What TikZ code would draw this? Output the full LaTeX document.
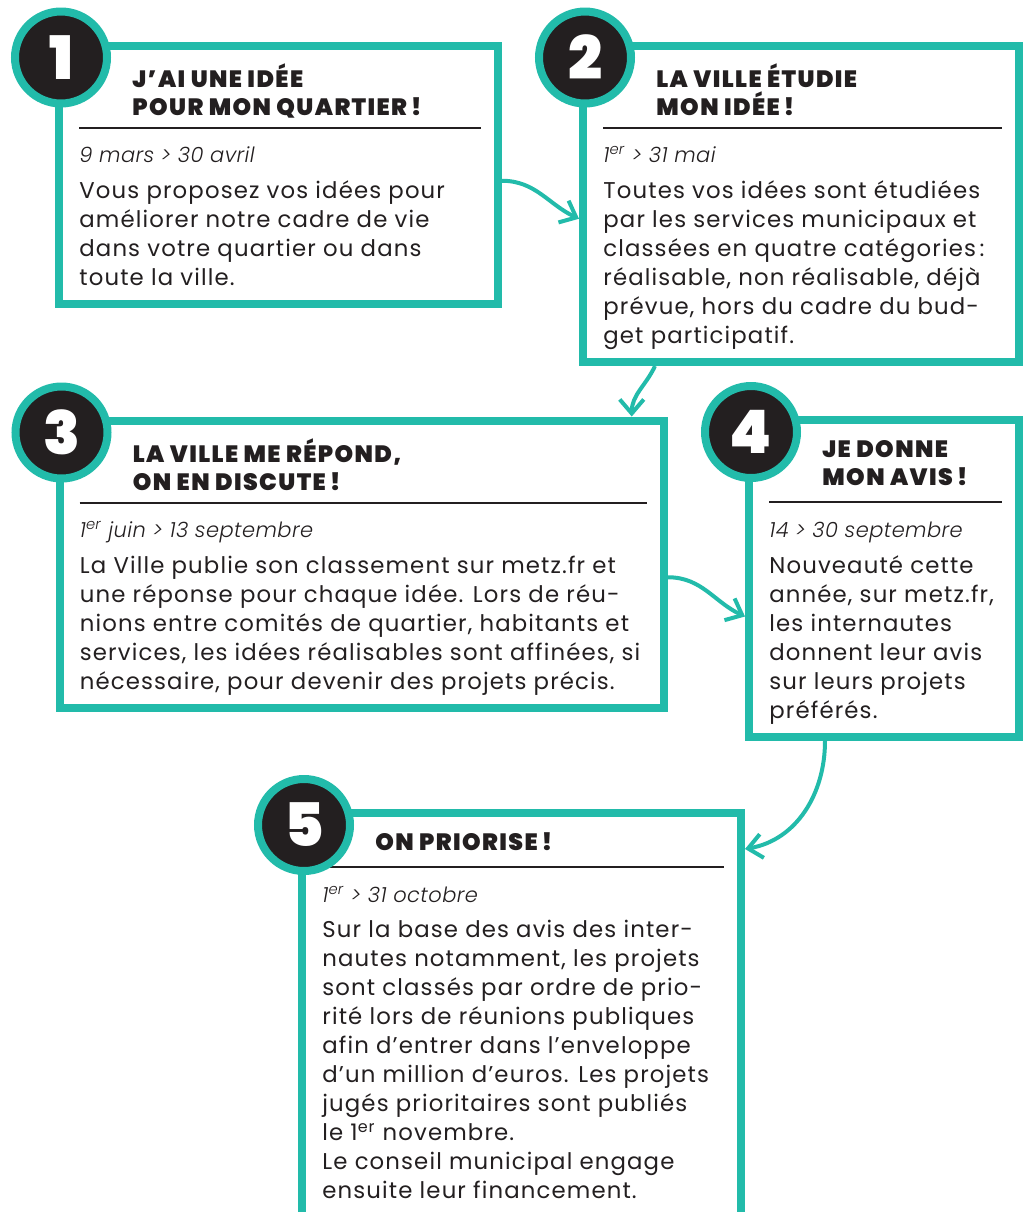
\documentclass[tikz,border=0pt]{standalone}
\usepackage{fontspec}
\setmainfont{Poppins}[LetterSpace=5]
\newfontfamily\headfont{Poppins Black}[LetterSpace=6]
\newfontfamily\numfont{Poppins Black}
\newfontfamily\datefont{Poppins Light Italic}[LetterSpace=2]
\usetikzlibrary{arrows.meta}
\definecolor{vert}{HTML}{22BBAA}
\definecolor{encre}{HTML}{231F20}
\newcommand\serre{\lineskiplimit=-20pt\relax}

\begin{document}
\begin{tikzpicture}[
  x=0.5pt, y=-0.5pt,
  etape/.style={draw=vert,line width=4pt,inner sep=0pt,fill=white},
  pastille/.style={circle,draw=vert,fill=encre,line width=4pt,minimum size=46pt,inner sep=0pt,text=white,font=\numfont\fontsize{30}{30}\selectfont},
  titre/.style={anchor=north west,inner sep=0pt,align=left,text=encre,font=\headfont\fontsize{11.8}{14}\selectfont\serre},
  filet/.style={draw=encre,line width=1pt},
  periode/.style={anchor=base west,inner sep=0pt,text=encre,font=\datefont\fontsize{10.5}{12}\selectfont},
  texte/.style={anchor=north west,inner sep=0pt,align=left,text=encre,font=\fontsize{11.4}{14.5}\selectfont\serre},
  fleche/.style={draw=vert,line width=2pt,-{Straight Barb[length=7pt,width=12pt]}}
]
\useasboundingbox (0,0) rectangle (1023,1212);
\clip (0,0) rectangle (1023,1212);

\node[etape,minimum width=219.5pt,minimum height=129.25pt] (b1) at (278.5,174.75) {};
\node[etape,minimum width=218pt,minimum height=158.25pt] (b2) at (801,203.75) {};
\node[etape,minimum width=302.25pt,minimum height=143.75pt] (b3) at (361.75,564.25) {};
\node[etape,minimum width=135pt,minimum height=158.5pt] (b4) at (884,578.5) {};
\node[etape,minimum width=219.5pt,minimum height=223.5pt] (b5) at (521.5,1036.5) {};

\draw[fleche] ([shift={(0,6)}]b1.east) to[out=0,in=155] ([shift={(0,15)}]b2.west);
\draw[fleche] ([shift={(-146,0)}]b2.south) to[out=-115,in=90] ([shift={(270,0)}]b3.north);
\draw[fleche] ([shift={(0,13)}]b3.east) to[out=0,in=155] ([shift={(0,38)}]b4.west);
\draw[fleche] ([shift={(-59,0)}]b4.south) to[out=-90,in=10] ([shift={(0,-187.5)}]b5.east);

\node[titre] (t1) at ([shift={(77,21.4)}]b1.north west) {\strut J’AI UNE IDÉE\\POUR MON QUARTIER\,!};
\draw[filet] ([shift={(24,86)}]b1.north west) -- ([shift={(-21,86)}]b1.north east);
\node[periode] (d1) at ([shift={(24,121)}]b1.north west) {9 mars > 30 avril};
\node[texte] (p1) at ([shift={(24,136.7)}]b1.north west) {\strut Vous proposez vos idées pour\\améliorer notre cadre de vie\\dans votre quartier ou dans\\toute la ville.};

\node[titre] (t2) at ([shift={(77,21.4)}]b2.north west) {\strut LA VILLE ÉTUDIE\\MON IDÉE\,!};
\draw[filet] ([shift={(24,86)}]b2.north west) -- ([shift={(-21,86)}]b2.north east);
\node[periode] (d2) at ([shift={(24,121)}]b2.north west) {1\textsuperscript{er} > 31 mai};
\node[texte] (p2) at ([shift={(24,136.7)}]b2.north west) {\strut Toutes vos idées sont étudiées\\par les services municipaux et\\classées en quatre catégories\,:\\réalisable, non réalisable, déjà\\prévue, hors du cadre du bud-\\get participatif.};

\node[titre] (t3) at ([shift={(77,21.4)}]b3.north west) {\strut LA VILLE ME RÉPOND,\\ON EN DISCUTE\,!};
\draw[filet] ([shift={(24,86)}]b3.north west) -- ([shift={(-21,86)}]b3.north east);
\node[periode] (d3) at ([shift={(24,121)}]b3.north west) {1\textsuperscript{er} juin > 13 septembre};
\node[texte] (p3) at ([shift={(24,136.7)}]b3.north west) {\strut La Ville publie son classement sur metz.fr et\\une réponse pour chaque idée. Lors de réu-\\nions entre comités de quartier, habitants et\\services, les idées réalisables sont affinées, si\\nécessaire, pour devenir des projets précis.};

\node[titre] (t4) at ([shift={(77,21.4)}]b4.north west) {\strut JE DONNE\\MON AVIS\,!};
\draw[filet] ([shift={(24,86)}]b4.north west) -- ([shift={(-21,86)}]b4.north east);
\node[periode] (d4) at ([shift={(24,121)}]b4.north west) {14 > 30 septembre};
\node[texte] (p4) at ([shift={(24,136.7)}]b4.north west) {\strut Nouveauté cette\\année, sur metz.fr,\\les internautes\\donnent leur avis\\sur leurs projets\\préférés.};

\node[titre] (t5) at ([shift={(77,21.4)}]b5.north west) {\strut ON PRIORISE\,!};
\draw[filet] ([shift={(24,58)}]b5.north west) -- ([shift={(-21,58)}]b5.north east);
\node[periode] (d5) at ([shift={(24,93)}]b5.north west) {1\textsuperscript{er} > 31 octobre};
\node[texte] (p5) at ([shift={(24,107.7)}]b5.north west) {\strut Sur la base des avis des inter-\\nautes notamment, les projets\\sont classés par ordre de prio-\\rité lors de réunions publiques\\afin d’entrer dans l’enveloppe\\d’un million d’euros. Les projets\\jugés prioritaires sont publiés\\le 1\textsuperscript{er} novembre.\\Le conseil municipal engage\\ensuite leur financement.};

\node[pastille] (c1) at ([shift={(6,16)}]b1.north west) {1};
\node[pastille] (c2) at ([shift={(6,16)}]b2.north west) {2};
\node[pastille] (c3) at ([shift={(6,16)}]b3.north west) {3};
\node[pastille] (c4) at ([shift={(6,16)}]b4.north west) {4};
\node[pastille] (c5) at ([shift={(6,16)}]b5.north west) {5};
\end{tikzpicture}
\end{document}
